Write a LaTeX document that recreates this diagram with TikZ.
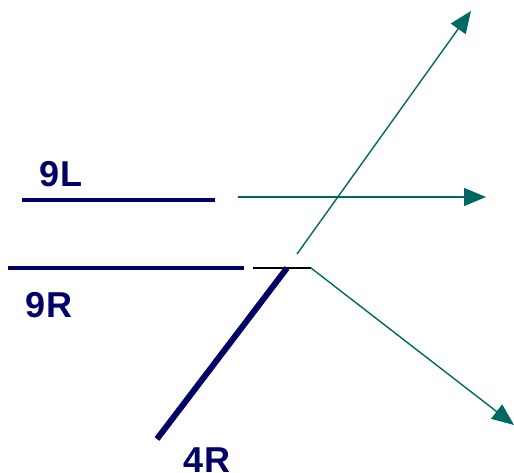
\documentclass[tikz,border=0pt]{standalone}
\usepackage{fontspec}
\setmainfont{Liberation Sans}
\usetikzlibrary{arrows.meta}
\definecolor{navy}{RGB}{0,0,102}
\definecolor{teal}{RGB}{0,104,100}
\begin{document}
\begin{tikzpicture}[x=1pt,y=-1pt,
  runway/.style={draw=navy,line width=4pt},
  runwaythick/.style={draw=navy,line width=6pt},
  path/.style={draw=teal,line width=1.4pt,-{Triangle[length=22pt,width=18pt]}},
  lbl/.style={text=navy,font=\fontsize{36}{36}\selectfont\bfseries,inner sep=0pt}]
\useasboundingbox (0,0) rectangle (514,473);
% runway ends
\coordinate (a9L) at (22,200);
\coordinate (b9L) at (215,200);
\coordinate (a9R) at (8,268);
\coordinate (b9R) at (244,268);
\coordinate (a4R) at (157,439);
\coordinate (b4R) at (287,268);
\coordinate (c1) at (253,268);
\coordinate (c2) at (311,268);
% path starts and ends
\coordinate (s1) at (238,197);
\coordinate (e1) at (486,197);
\coordinate (s2) at (297,254);
\coordinate (e2) at (471,11);
\coordinate (e3) at (514,425);
% runways
\draw[runway] (a9L) -- (b9L);
\draw[runway] (a9R) -- (b9R);
\draw[black,line width=1.2pt] (c1) -- (c2);
\draw[runwaythick] (a4R) -- (b4R);
% paths
\draw[path] (s1) -- (e1);
\draw[path] (s2) -- (e2);
\draw[path] (c2) -- (e3);
% labels
\node[lbl] (l9L) at (61,174) {9L};
\node[lbl] (l9R) at (49,305) {9R};
\node[lbl] (l4R) at (207,460) {4R};
\end{tikzpicture}
\end{document}
